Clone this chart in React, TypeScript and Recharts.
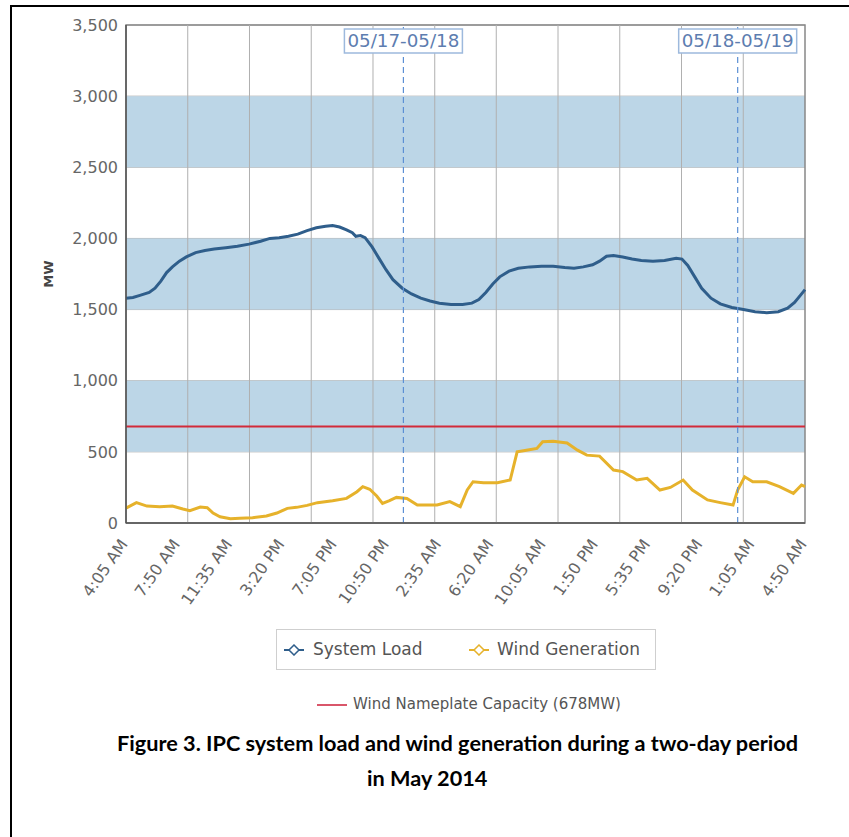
import React from 'react';
import { LineChart, Line, XAxis, YAxis, CartesianGrid, ReferenceLine, ReferenceArea } from 'recharts';

// x values are minutes after 4:05 AM on 05/17
const labelTicks = [0, 225, 450, 675, 900, 1125, 1350, 1575, 1800, 2025, 2250, 2475, 2700, 2925];
const labelTexts = ['4:05 AM', '7:50 AM', '11:35 AM', '3:20 PM', '7:05 PM', '10:50 PM', '2:35 AM', '6:20 AM', '10:05 AM', '1:50 PM', '5:35 PM', '9:20 PM', '1:05 AM', '4:50 AM'];
const gridTimes = [266, 532, 798, 1064, 1330, 1595, 1861, 2127, 2393, 2659];
const yTicks = [0, 500, 1000, 1500, 2000, 2500, 3000, 3500];
const bands = [[500, 1000], [1500, 2000], [2500, 3000]];
const dayBreaks = [1195, 2635];
const dayLabels = ['05/17-05/18', '05/18-05/19'];
const nameplate = 678;

const loadTimes = [0, 30, 60, 100, 125, 150, 175, 200, 230, 260, 300, 340, 380, 430, 480, 530, 580, 620, 660, 700, 740, 780, 820, 860, 890, 920, 950, 975, 990, 1010, 1030, 1060, 1090, 1120, 1150, 1190, 1230, 1270, 1310, 1350, 1400, 1450, 1490, 1520, 1550, 1580, 1610, 1650, 1690, 1740, 1790, 1840, 1890, 1930, 1970, 2010, 2040, 2070, 2100, 2140, 2180, 2220, 2270, 2320, 2370, 2395, 2420, 2450, 2480, 2520, 2560, 2610, 2660, 2710, 2760, 2810, 2850, 2880, 2905, 2925];
const loadValues = [1580, 1585, 1600, 1620, 1650, 1700, 1760, 1800, 1840, 1870, 1900, 1915, 1925, 1935, 1945, 1960, 1980, 2000, 2005, 2015, 2030, 2055, 2075, 2085, 2090, 2080, 2060, 2040, 2015, 2020, 2005, 1940, 1860, 1780, 1710, 1650, 1610, 1580, 1560, 1545, 1535, 1535, 1545, 1570, 1620, 1680, 1730, 1770, 1790, 1800, 1805, 1805, 1795, 1790, 1800, 1815, 1840, 1875, 1880, 1870, 1855, 1845, 1840, 1845, 1860, 1855, 1810, 1730, 1650, 1580, 1540, 1515, 1500, 1485, 1478, 1485, 1510, 1550, 1600, 1640];

const windTimes = [0, 45, 90, 145, 200, 245, 275, 320, 350, 375, 405, 450, 490, 545, 605, 650, 695, 735, 780, 825, 890, 950, 995, 1020, 1050, 1080, 1105, 1135, 1165, 1210, 1255, 1295, 1340, 1395, 1440, 1470, 1495, 1540, 1600, 1655, 1685, 1725, 1770, 1795, 1840, 1900, 1945, 1985, 2040, 2100, 2140, 2200, 2245, 2300, 2345, 2400, 2440, 2505, 2560, 2615, 2635, 2665, 2700, 2760, 2815, 2875, 2910, 2925];
const windValues = [105, 143, 119, 115, 119, 98, 87, 112, 108, 70, 44, 30, 33, 37, 49, 70, 103, 110, 124, 143, 157, 173, 220, 255, 237, 190, 138, 157, 180, 173, 126, 126, 126, 150, 115, 232, 290, 283, 283, 302, 500, 512, 524, 571, 575, 562, 512, 477, 470, 372, 361, 302, 314, 232, 250, 302, 232, 162, 143, 126, 232, 325, 290, 290, 255, 208, 267, 255];

const loadData = loadTimes.map((t, i) => ({ t, load: loadValues[i] }));
const windData = windTimes.map((t, i) => ({ t, wind: windValues[i] }));

const FONT = '"DejaVu Sans", Verdana, sans-serif';
const LOAD_COLOR = '#2f5e8b';
const WIND_COLOR = '#e6b22b';

const XTick = (props: any) => {
  const { x, y, payload } = props;
  const idx = labelTicks.indexOf(payload.value);
  return (
    <g transform={`translate(${x - 2},${y + 10})`}>
      <text transform="rotate(-55)" textAnchor="end" dominantBaseline="central" fontSize={16} fill="#666" fontFamily={FONT}>
        {idx >= 0 ? labelTexts[idx] : ''}
      </text>
    </g>
  );
};

const makeDayLabel = (text: string) => (props: any) => {
  const vb = props.viewBox || {};
  const cx = vb.x;
  return (
    <g>
      <rect x={cx - 59} y={29} width={118} height={24} fill="#ffffff" stroke="#9db9dd" strokeWidth={1.5} />
      <text x={cx} y={47} textAnchor="middle" fontSize={17} fill="#5d7db0" fontFamily={FONT} textLength={112} lengthAdjust="spacingAndGlyphs">
        {text}
      </text>
    </g>
  );
};

const Marker = ({ color }: { color: string }) => (
  <svg width={20} height={12} style={{ display: 'block' }}>
    <line x1={0} y1={6} x2={20} y2={6} stroke={color} strokeWidth={2} />
    <polygon points="10,1 15,6 10,11 5,6" fill="#fff" stroke={color} strokeWidth={1.5} />
  </svg>
);

export default function App() {
  return (
    <div style={{ position: 'absolute', left: 0, top: 0, width: 849, height: 837, overflow: 'hidden', background: '#fff' }}>
      <div style={{ position: 'absolute', left: 10, top: 5, width: 900, height: 900, borderLeft: '2px solid #000', borderTop: '2px solid #000' }} />
      <div style={{ position: 'absolute', left: 0, top: 0 }}>
        <LineChart width={849} height={640} margin={{ top: 25, right: 44, bottom: 17, left: 0 }}>
          {bands.map((b, i) => (
            <ReferenceArea key={'b' + i} x1={0} x2={2925} y1={b[0]} y2={b[1]} fill="#bcd6e7" fillOpacity={1} stroke="none" ifOverflow="visible" />
          ))}
          <CartesianGrid vertical={false} stroke="#b4b4b4" />
          {gridTimes.map((g) => (
            <ReferenceLine key={'g' + g} x={g} stroke="#b0b0b0" strokeWidth={1} />
          ))}
          <XAxis
            dataKey="t"
            type="number"
            domain={[0, 2925]}
            ticks={labelTicks}
            interval={0}
            tick={<XTick />}
            tickLine={false}
            height={100}
            axisLine={{ stroke: '#555', strokeWidth: 1.5 }}
            allowDuplicatedCategory={false}
          />
          <YAxis
            type="number"
            domain={[0, 3500]}
            ticks={yTicks}
            width={126}
            tickLine={false}
            axisLine={{ stroke: '#555', strokeWidth: 1.5 }}
            tick={{ fontSize: 16, fill: '#666', fontFamily: FONT }}
            tickFormatter={(v: number) => v.toLocaleString('en-US')}
            label={{ value: 'MW', angle: -90, position: 'insideLeft', offset: 48, style: { fontSize: 13, fontWeight: 'bold', fill: '#444', fontFamily: FONT, textAnchor: 'middle' } }}
          />
          <ReferenceArea x1={0} x2={2925} y1={0} y2={3500} fill="none" stroke="#888" strokeWidth={1.5} ifOverflow="visible" />
          <ReferenceLine y={nameplate} stroke="#d22a3a" strokeWidth={2} />
          <Line data={windData} dataKey="wind" type="linear" stroke={WIND_COLOR} strokeWidth={3} dot={false} isAnimationActive={false} />
          <Line data={loadData} dataKey="load" type="linear" stroke={LOAD_COLOR} strokeWidth={3} dot={false} isAnimationActive={false} />
          {dayBreaks.map((d, i) => (
            <ReferenceLine key={'d' + i} x={d} stroke="#5b8fd4" strokeWidth={1.2} strokeDasharray="6 4" label={makeDayLabel(dayLabels[i])} />
          ))}
        </LineChart>
      </div>
      {/* legend */}
      <div style={{ position: 'absolute', left: 276, top: 629, width: 378, height: 39, border: '1px solid #cfcfcf', background: '#fff', fontFamily: FONT, fontSize: 17, color: '#555' }}>
        <div style={{ position: 'absolute', left: 7, top: 14 }}><Marker color={LOAD_COLOR} /></div>
        <div style={{ position: 'absolute', left: 36, top: 9, whiteSpace: 'nowrap' }}>System Load</div>
        <div style={{ position: 'absolute', left: 192, top: 14 }}><Marker color={WIND_COLOR} /></div>
        <div style={{ position: 'absolute', left: 220, top: 9, whiteSpace: 'nowrap' }}>Wind Generation</div>
      </div>
      <div style={{ position: 'absolute', left: 317, top: 704, width: 30, height: 2, background: '#d9566a' }} />
      <div style={{ position: 'absolute', left: 353, top: 695, fontFamily: FONT, fontSize: 15, color: '#555', whiteSpace: 'nowrap' }}>Wind Nameplate Capacity (678MW)</div>
      {/* caption */}
      <div style={{ position: 'absolute', left: 117, top: 730, fontFamily: 'Lato, "Open Sans", sans-serif', fontWeight: 'bold', fontSize: 21.7, color: '#000', whiteSpace: 'nowrap' }}>
        Figure 3. IPC system load and wind generation during a two-day period
      </div>
      <div style={{ position: 'absolute', left: 367, top: 765, fontFamily: 'Lato, "Open Sans", sans-serif', fontWeight: 'bold', fontSize: 21.7, color: '#000', whiteSpace: 'nowrap' }}>
        in May 2014
      </div>
    </div>
  );
}
